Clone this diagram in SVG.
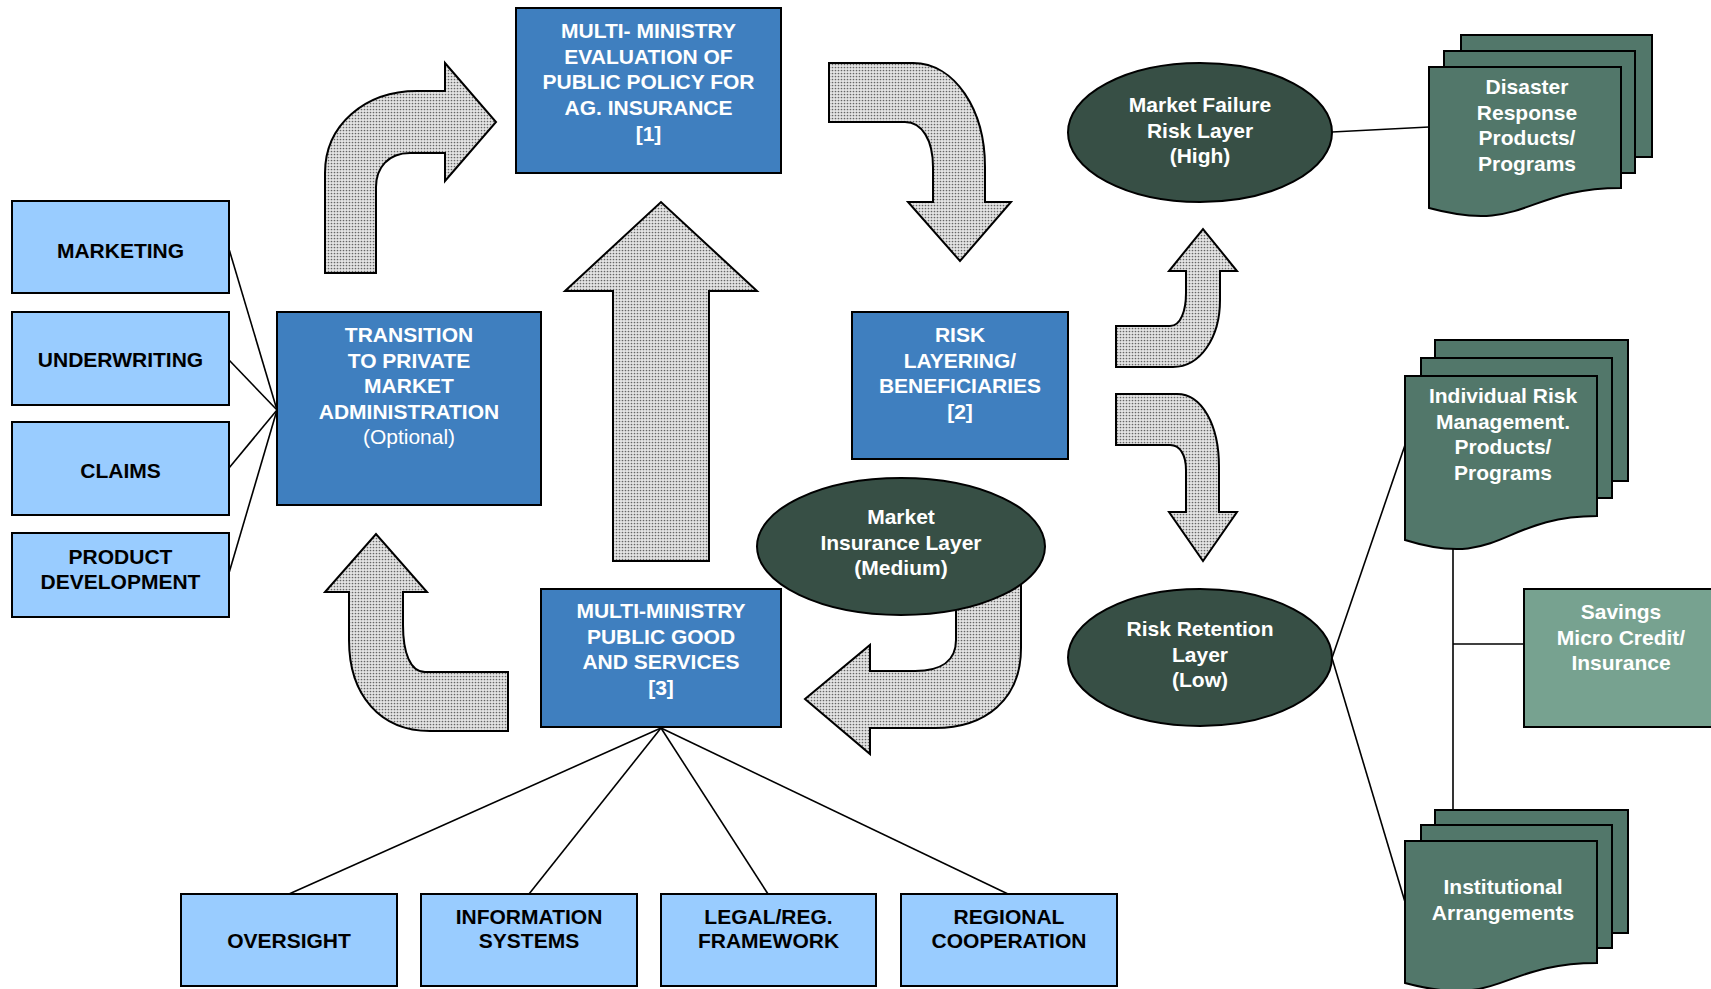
<svg xmlns="http://www.w3.org/2000/svg" width="1711" height="989" viewBox="0 0 1711 989">
<defs>
<pattern id="dots" width="3" height="3" patternUnits="userSpaceOnUse">
<rect width="3" height="3" fill="#e4e4e4"/>
<circle cx="1.5" cy="1.5" r="0.85" fill="#666666"/>
</pattern>
<style>
.t{font-family:"Liberation Sans",Arial,sans-serif;font-size:21px;font-weight:bold;text-anchor:middle}
.w{fill:#ffffff}
.k{fill:#000000}
.n{font-weight:normal}
.blue{fill:#3F7FBF;stroke:#000;stroke-width:2}
.lb{fill:#99CCFF;stroke:#000;stroke-width:2}
.ell{fill:#374F45;stroke:#000;stroke-width:2}
.doc{fill:#52776A;stroke:#000;stroke-width:2}
.sav{fill:#77A290;stroke:#000;stroke-width:2}
.arr{fill:url(#dots);stroke:#000;stroke-width:2;stroke-linejoin:miter}
.ln{stroke:#000;stroke-width:1.6;fill:none}
</style>
</defs>
<rect width="1711" height="989" fill="#ffffff"/>

<g id="connectors">
<line class="ln" x1="229" y1="249" x2="277" y2="410"/>
<line class="ln" x1="229" y1="360" x2="277" y2="410"/>
<line class="ln" x1="229" y1="468" x2="277" y2="410"/>
<line class="ln" x1="229" y1="573" x2="277" y2="410"/>
<line class="ln" x1="661" y1="728" x2="289" y2="894"/>
<line class="ln" x1="661" y1="728" x2="529" y2="894"/>
<line class="ln" x1="661" y1="728" x2="768" y2="894"/>
<line class="ln" x1="661" y1="728" x2="1008" y2="894"/>
<line class="ln" x1="1332" y1="132" x2="1429" y2="127"/>
<line class="ln" x1="1332" y1="658" x2="1405" y2="445"/>
<line class="ln" x1="1332" y1="658" x2="1405" y2="902"/>
<line class="ln" x1="1453" y1="540" x2="1453" y2="841"/>
<line class="ln" x1="1453" y1="644" x2="1524" y2="644"/>
</g>

<g id="arrows">
<path class="arr" d="M325,273 L325,173 C325,125 365,91 417,91 L445,91 L445,63 L496,122 L445,181 L445,153 L410,153 C388,153 376,168 376,187 L376,273 Z"/>
<path class="arr" d="M829,63 L913,63 C955,63 985,110 985,167 L985,202 L1011,202 L960,261 L908,202 L933,202 L933,167 C933,140 922,122 905,122 L829,122 Z"/>
<path class="arr" d="M613,561 L613,291 L565,291 L661,202 L757,291 L709,291 L709,561 Z"/>
<path class="arr" d="M1116,326 L1170,326 C1181,326 1186,310 1186,293 L1186,271 L1169,271 L1203,229 L1237,271 L1220,271 L1220,300 C1220,338 1200,367 1173,367 L1116,367 Z"/>
<path class="arr" d="M1116,394 L1177,394 C1202,394 1219,425 1219,467 L1219,512 L1237,512 L1203,561 L1169,512 L1186,512 L1186,470 C1186,455 1180,445 1170,445 L1116,445 Z"/>
<path class="arr" d="M956,560 L956,640 C956,660 942,671 915,671 L870,671 L870,645 L805,699 L870,754 L870,728 L935,728 C985,728 1021,700 1021,648 L1021,560 Z"/>
<path class="arr" d="M508,672 L425,672 C410,672 403,652 403,625 L403,592 L427,592 L376,534 L325,592 L349,592 L349,640 C349,695 380,731 430,731 L508,731 Z"/>
</g>

<g id="n1">
<rect class="blue" x="516" y="8" width="265" height="165"/>
<text class="t w"><tspan x="648.5" y="38">MULTI- MINISTRY</tspan><tspan x="648.5" y="63.5">EVALUATION OF</tspan><tspan x="648.5" y="89">PUBLIC POLICY FOR</tspan><tspan x="648.5" y="114.5">AG. INSURANCE</tspan><tspan x="648.5" y="140.5">[1]</tspan></text>
</g>

<g id="n2">
<rect class="blue" x="852" y="312" width="216" height="147"/>
<text class="t w"><tspan x="960" y="342">RISK</tspan><tspan x="960" y="367.5">LAYERING/</tspan><tspan x="960" y="393">BENEFICIARIES</tspan><tspan x="960" y="418.5">[2]</tspan></text>
</g>

<g id="n3">
<rect class="blue" x="541" y="589" width="240" height="138"/>
<text class="t w"><tspan x="661" y="618">MULTI-MINISTRY</tspan><tspan x="661" y="643.5">PUBLIC GOOD</tspan><tspan x="661" y="669">AND SERVICES</tspan><tspan x="661" y="694.5">[3]</tspan></text>
</g>

<g id="transition">
<rect class="blue" x="277" y="312" width="264" height="193"/>
<text class="t w"><tspan x="409" y="342">TRANSITION</tspan><tspan x="409" y="367.5">TO PRIVATE</tspan><tspan x="409" y="393">MARKET</tspan><tspan x="409" y="418.5">ADMINISTRATION</tspan><tspan x="409" y="444" class="n">(Optional)</tspan></text>
</g>

<g id="marketing">
<rect class="lb" x="12" y="201" width="217" height="92"/>
<text class="t k" x="120.5" y="258">MARKETING</text>
</g>
<g id="underwriting">
<rect class="lb" x="12" y="312" width="217" height="93"/>
<text class="t k" x="120.5" y="367">UNDERWRITING</text>
</g>
<g id="claims">
<rect class="lb" x="12" y="422" width="217" height="93"/>
<text class="t k" x="120.5" y="478">CLAIMS</text>
</g>
<g id="productdev">
<rect class="lb" x="12" y="533" width="217" height="84"/>
<text class="t k"><tspan x="120.5" y="564">PRODUCT</tspan><tspan x="120.5" y="588.5">DEVELOPMENT</tspan></text>
</g>

<g id="oversight">
<rect class="lb" x="181" y="894" width="216" height="92"/>
<text class="t k" x="289" y="948">OVERSIGHT</text>
</g>
<g id="infosys">
<rect class="lb" x="421" y="894" width="216" height="92"/>
<text class="t k"><tspan x="529" y="924">INFORMATION</tspan><tspan x="529" y="948">SYSTEMS</tspan></text>
</g>
<g id="legal">
<rect class="lb" x="661" y="894" width="215" height="92"/>
<text class="t k"><tspan x="768.5" y="924">LEGAL/REG.</tspan><tspan x="768.5" y="948">FRAMEWORK</tspan></text>
</g>
<g id="regional">
<rect class="lb" x="901" y="894" width="216" height="92"/>
<text class="t k"><tspan x="1009" y="924">REGIONAL</tspan><tspan x="1009" y="948">COOPERATION</tspan></text>
</g>

<g id="marketfailure">
<ellipse class="ell" cx="1200" cy="132.5" rx="132" ry="69.5"/>
<text class="t w"><tspan x="1200" y="112">Market Failure</tspan><tspan x="1200" y="137.5">Risk Layer</tspan><tspan x="1200" y="163">(High)</tspan></text>
</g>

<g id="marketinsurance">
<ellipse class="ell" cx="901" cy="546.5" rx="144" ry="68.5"/>
<text class="t w"><tspan x="901" y="524">Market</tspan><tspan x="901" y="549.5">Insurance Layer</tspan><tspan x="901" y="575">(Medium)</tspan></text>
</g>

<g id="riskretention">
<ellipse class="ell" cx="1200" cy="657.5" rx="132" ry="68.5"/>
<text class="t w"><tspan x="1200" y="636">Risk Retention</tspan><tspan x="1200" y="661.5">Layer</tspan><tspan x="1200" y="687">(Low)</tspan></text>
</g>

<g id="disaster">
<rect class="doc" x="1461" y="35" width="191" height="122"/>
<rect class="doc" x="1444" y="51" width="191" height="122"/>
<path class="doc" d="M1429,67 H1621 V188 C1525,188 1525,234 1429,208 Z"/>
<text class="t w"><tspan x="1527" y="94">Disaster</tspan><tspan x="1527" y="119.5">Response</tspan><tspan x="1527" y="145">Products/</tspan><tspan x="1527" y="170.5">Programs</tspan></text>
</g>

<g id="individual">
<rect class="doc" x="1435" y="340" width="193" height="141"/>
<rect class="doc" x="1421" y="358" width="191" height="140"/>
<path class="doc" d="M1405,376 H1597 V516 C1501,516 1501,570 1405,540 Z"/>
<text class="t w"><tspan x="1503" y="403">Individual Risk</tspan><tspan x="1503" y="428.5">Management.</tspan><tspan x="1503" y="454">Products/</tspan><tspan x="1503" y="479.5">Programs</tspan></text>
</g>

<g id="savings">
<rect class="sav" x="1524" y="589" width="194" height="138"/>
<text class="t w"><tspan x="1621" y="619">Savings</tspan><tspan x="1621" y="644.5">Micro Credit/</tspan><tspan x="1621" y="670">Insurance</tspan></text>
</g>

<g id="institutional">
<rect class="doc" x="1435" y="810" width="193" height="123"/>
<rect class="doc" x="1421" y="825" width="191" height="123"/>
<path class="doc" d="M1405,841 H1597 V963 C1501,963 1501,1009 1405,983 Z"/>
<text class="t w"><tspan x="1503" y="894">Institutional</tspan><tspan x="1503" y="919.5">Arrangements</tspan></text>
</g>
</svg>
